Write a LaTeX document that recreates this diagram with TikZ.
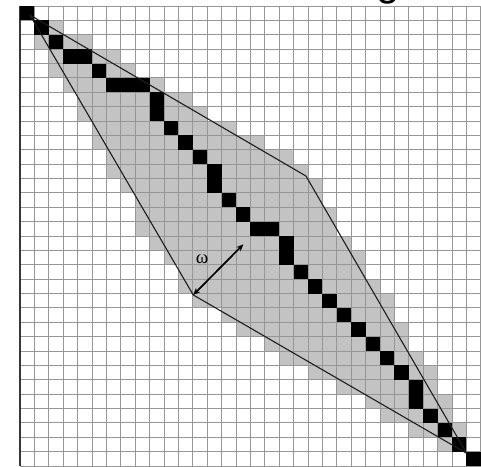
\documentclass[tikz,border=0pt]{standalone}
\usepackage{fontspec}
\setmainfont{Liberation Serif}
\newfontfamily\gfont{Liberation Sans}
\usetikzlibrary{arrows.meta}
\definecolor{cellgray}{RGB}{195,195,195}
\definecolor{gridgray}{RGB}{150,150,150}
\definecolor{bordergray}{RGB}{55,55,55}
\definecolor{polygray}{RGB}{30,30,30}
\tikzset{
  gridline/.style={draw=gridgray, line width=1pt},
  borderline/.style={draw=bordergray, line width=1.5pt},
  bandcell/.style={fill=cellgray},
  pathcell/.style={fill=black},
  polyline/.style={draw=polygray, line width=1.1pt, line join=round},
  warrow/.style={draw=black, line width=1.7pt, {Stealth[length=7pt,width=6pt]}-{Stealth[length=7pt,width=6pt]}},
  omegalabel/.style={inner sep=0pt, font=\fontsize{19}{19}\selectfont},
  fragment/.style={anchor=base, inner sep=0pt, font=\gfont\fontsize{42}{42}\selectfont}
}
\begin{document}
\begin{tikzpicture}[x=1pt,y=-1pt]
\useasboundingbox (0,0) rectangle (481,466);
\node[fragment] (gfrag) at (388,-4.8) {g};
\begin{scope}[shift={(20,6)}, x=14.4pt, y=-14.375pt]
  % gray band
  \foreach \r/\a/\b in {1/1/2, 2/1/4, 3/2/6, 4/2/7, 5/3/9, 6/4/11, 7/4/12, 8/5/14,
      9/5/16, 10/6/18, 11/6/19, 12/7/20, 13/8/20, 14/8/21, 15/8/21, 16/9/22,
      17/10/23, 18/11/23, 19/11/24, 20/12/25, 21/14/25, 22/15/26, 23/17/26,
      24/18/27, 25/20/28, 26/22/28, 27/24/29, 28/25/29, 29/27/30, 30/29/30}
    \fill[bandcell] (\a,\r) rectangle ({\b+1},{\r+1});
  % grid
  \foreach \i in {0,...,32} {
    \draw[gridline] (\i,0) -- (\i,32);
    \draw[gridline] (0,\i) -- (32,\i);
  }
  \draw[borderline] (0,0) -- (0,32);
  % warping path
  \foreach \c/\r in {0/0, 1/1, 2/2, 3/3, 4/3, 5/4, 6/5, 7/5, 8/5, 9/6, 9/7, 10/8,
      11/9, 12/10, 13/11, 13/12, 14/13, 15/14, 16/15, 17/15, 18/16, 18/17, 19/18,
      20/19, 21/20, 22/21, 23/22, 24/23, 25/24, 26/25, 27/26, 27/27, 28/28,
      29/29, 30/30, 31/31}
    \fill[pathcell] (\c,\r) rectangle ++(1,1);
  % parallelogram
  \coordinate (A) at (0.69,0.63);
  \coordinate (B) at (19.86,11.83);
  \coordinate (C) at (31.02,31.12);
  \coordinate (D) at (12.03,20.1);
  \coordinate (W) at (15.51,16.58);
  \draw[polyline] (A) -- (B) -- (C) -- (D) -- cycle;
  \draw[warrow] (D) -- (W);
  \node[omegalabel] (omega) at (12.64,17.63) {ω};
\end{scope}
\end{tikzpicture}
\end{document}
